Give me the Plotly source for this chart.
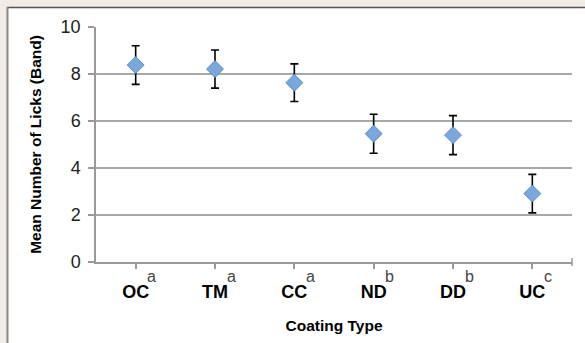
import plotly.graph_objects as go

categories = ["OC", "TM", "CC", "ND", "DD", "UC"]
means = [8.38, 8.21, 7.63, 5.46, 5.40, 2.91]
errors = [0.82, 0.81, 0.80, 0.83, 0.83, 0.82]
letters = ["a", "a", "a", "b", "b", "c"]
y_ticks = [0, 2, 4, 6, 8, 10]

W, H = 585, 343
ml, mr, mt, mb = 96, 13, 27, 81
pw, ph = W - ml - mr, H - mt - mb

def px_x(p):
    return (p - ml) / pw

def px_y(p):
    return (H - mb - p) / ph

FONT = "Liberation Sans, Arial"

fig = go.Figure()
fig.add_trace(go.Scatter(
    x=categories, y=means, mode="markers",
    marker=dict(symbol="diamond", size=13, color="#7aa8dc",
                line=dict(color="#5b8cc6", width=1)),
    error_y=dict(type="data", array=errors, visible=True,
                 color="black", thickness=1.6, width=4),
    showlegend=False,
))

for c, l in zip(categories, letters):
    fig.add_annotation(x=c, y=px_y(276), xref="x", yref="paper",
                       text=l, showarrow=False, xshift=16, yanchor="middle",
                       font=dict(family=FONT, size=16, color="#444"))

# white panel with dark top/left border
fig.add_shape(type="rect", xref="paper", yref="paper",
              x0=px_x(7), x1=px_x(W + 5), y0=px_y(H + 5), y1=px_y(7.5),
              fillcolor="white", line=dict(width=0), layer="below")
fig.add_shape(type="line", xref="paper", yref="paper",
              x0=px_x(7), x1=px_x(W + 5), y0=px_y(7.5), y1=px_y(7.5),
              line=dict(color="#555", width=1.5), layer="below")
fig.add_shape(type="line", xref="paper", yref="paper",
              x0=px_x(7.5), x1=px_x(7.5), y0=px_y(7), y1=px_y(H + 5),
              line=dict(color="#888", width=2), layer="below")
# tick mark at the right end of the x axis
fig.add_shape(type="line", xref="paper", yref="paper",
              x0=1, x1=1, y0=px_y(266), y1=px_y(258),
              line=dict(color="#999", width=1.5))

fig.update_layout(
    width=W, height=H,
    margin=dict(l=ml, r=mr, t=mt, b=mb),
    paper_bgcolor="#f3ebe5", plot_bgcolor="white",
    font=dict(family=FONT, color="black"),
    xaxis=dict(
        type="category", range=[-0.5, 5.5],
        showline=True, linecolor="#999", linewidth=1.5,
        ticks="outside", ticklen=5, tickcolor="#999", tickwidth=1.5,
        tickfont=dict(size=18, family=FONT, weight="bold"),
        ticklabelstandoff=8,
        title=dict(text="<b>Coating Type</b>", font=dict(size=15.5), standoff=19),
        showgrid=False,
    ),
    yaxis=dict(
        range=[0, 10], tickvals=y_ticks,
        showline=True, linecolor="#999", linewidth=1.5,
        ticks="outside", ticklen=6, tickcolor="#999", tickwidth=1.5,
        tickfont=dict(size=18, color="#222"),
        ticklabelstandoff=4,
        showgrid=True, gridcolor="#a8a8a8", gridwidth=1.5,
        zeroline=False,
        title=dict(text="<b>Mean Number of Licks (Band)</b>", font=dict(size=15.5), standoff=15),
    ),
)

fig.write_html("out.html")
